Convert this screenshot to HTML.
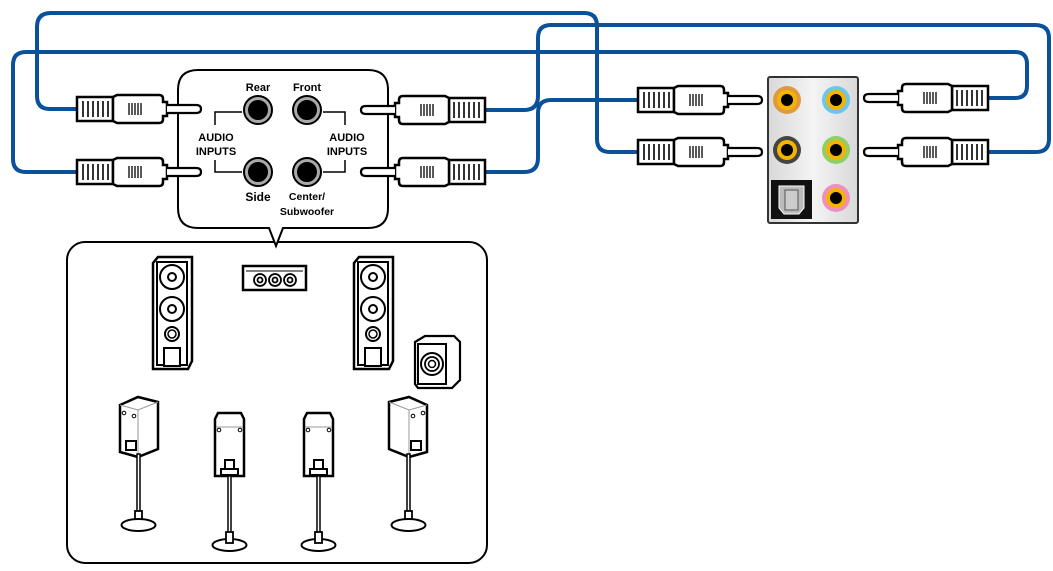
<!DOCTYPE html>
<html><head><meta charset="utf-8"><style>
html,body{margin:0;padding:0;background:#fff;}
svg{display:block;}
text{font-family:"Liberation Sans",Arial,sans-serif;font-weight:bold;fill:#000;}
</style></head><body>
<svg width="1053" height="571" viewBox="0 0 1053 571" xmlns="http://www.w3.org/2000/svg">
<defs>
<g id="plug">
  <rect x="0" y="-12" width="36" height="24" fill="#fff" stroke="#000" stroke-width="2.5"/>
  <g stroke="#000" stroke-width="1.6">
    <line x1="6" y1="-8" x2="6" y2="8"/><line x1="11" y1="-8" x2="11" y2="8"/><line x1="16" y1="-8" x2="16" y2="8"/><line x1="21" y1="-8" x2="21" y2="8"/><line x1="26" y1="-8" x2="26" y2="8"/><line x1="31" y1="-8" x2="31" y2="8"/>
  </g>
  <path d="M36,-12 L40,-14 L82,-14 Q86,-14 86,-10 L86,-7 L90,-7 L90,7 L86,7 L86,10 Q86,14 82,14 L40,14 L36,12 Z" fill="#fff" stroke="#000" stroke-width="2.5"/>
  <g stroke="#000" stroke-width="1.3">
    <line x1="52" y1="-6" x2="52" y2="6"/><line x1="55" y1="-6" x2="55" y2="6"/><line x1="58" y1="-6" x2="58" y2="6"/><line x1="61" y1="-6" x2="61" y2="6"/><line x1="64" y1="-6" x2="64" y2="6"/>
  </g>
  <path d="M90,-4 L119,-4 Q124,-4 124,0 Q124,4 119,4 L90,4" fill="#fff" stroke="#000" stroke-width="2.2"/>
</g>
<g id="tower">
  <path d="M0,6 L5,0 L39,0 L39,104 L35,112 L0,112 Z" fill="#fff" stroke="#000" stroke-width="2.5"/>
  <rect x="4" y="5" width="30" height="103" fill="none" stroke="#000" stroke-width="2"/>
  <circle cx="19" cy="20" r="12" fill="#fff" stroke="#000" stroke-width="2"/><circle cx="19" cy="20" r="4" fill="none" stroke="#000" stroke-width="2"/>
  <circle cx="19" cy="52" r="12" fill="#fff" stroke="#000" stroke-width="2"/><circle cx="19" cy="52" r="4" fill="none" stroke="#000" stroke-width="2"/>
  <circle cx="19" cy="77" r="7" fill="#fff" stroke="#000" stroke-width="2"/><circle cx="19" cy="77" r="4" fill="none" stroke="#000" stroke-width="1.5"/>
  <rect x="11" y="91" width="16" height="18" fill="#fff" stroke="#000" stroke-width="2"/>
</g>
<g id="sat">
  <path d="M3,0 L26,0 L29,6 L29,63 L0,63 L0,6 Z" fill="#fff" stroke="#000" stroke-width="2.5"/>
  <line x1="1" y1="14" x2="28" y2="14" stroke="#999" stroke-width="1"/>
  <circle cx="4" cy="17" r="1.8" fill="#fff" stroke="#000"/><circle cx="25" cy="17" r="1.8" fill="#fff" stroke="#000"/>
  <rect x="10" y="47" width="9" height="9" fill="#fff" stroke="#000" stroke-width="2"/>
  <rect x="6" y="56" width="17" height="6" fill="#fff" stroke="#000" stroke-width="2"/>
  <rect x="13" y="63" width="3" height="57" fill="#fff" stroke="#000" stroke-width="1.5"/>
  <ellipse cx="14.5" cy="132" rx="17" ry="6" fill="#fff" stroke="#000" stroke-width="2"/>
  <rect x="11" y="119" width="7" height="11" fill="#fff" stroke="#000" stroke-width="1.8"/>
</g>
<g id="side">
  <path d="M0,8 L18,0 L38,5 L38,52 L18,60 L0,55 Z" fill="#fff" stroke="#000" stroke-width="2.5"/>
  <path d="M0,8 L18,13 L38,5 M18,13 L18,60" fill="none" stroke="#999" stroke-width="1"/>
  <circle cx="4" cy="16" r="1.8" fill="#fff" stroke="#000"/><circle cx="14" cy="19" r="1.8" fill="#fff" stroke="#000"/>
  <rect x="6" y="44" width="10" height="9" fill="#fff" stroke="#000" stroke-width="2"/>
  <rect x="17" y="57" width="3" height="60" fill="#fff" stroke="#000" stroke-width="1.5"/>
  <rect x="15" y="114" width="7" height="12" fill="#fff" stroke="#000" stroke-width="1.8"/>
  <ellipse cx="18.5" cy="128" rx="17" ry="6" fill="#fff" stroke="#000" stroke-width="2"/>
</g>
</defs>

<!-- wires -->
<g fill="none" stroke="#0a519a" stroke-width="4" stroke-linecap="round">
  <path d="M77,109 L50,109 Q37,109 37,96 L37,27 Q37,13 51,13 L584,13 Q597,13 597,26 L597,139 Q597,152 610,152 L638,152"/>
  <path d="M77,172 L26,172 Q13,172 13,159 L13,65 Q13,52 26,52 L1015,52 Q1027,52 1027,64 L1027,86 Q1027,98 1015,98 L988,98"/>
  <path d="M485,110 L524,110 Q538,110 538,96 L538,38 Q538,25 551,25 L1035,25 Q1049,25 1049,38 L1049,139 Q1049,152 1036,152 L988,152"/>
  <path d="M485,172 L524,172 Q538,172 538,158 L538,113 Q538,100 551,100 L638,100"/>
</g>

<!-- big box -->
<rect x="67" y="242" width="420" height="321" rx="18" fill="#fff" stroke="#000" stroke-width="2"/>
<!-- callout box with downward pointer -->
<path d="M198,70 L368,70 Q388,70 388,90 L388,208 Q388,228 368,228 L283,228 L276,246 L269,228 L198,228 Q178,228 178,208 L178,90 Q178,70 198,70 Z" fill="#fff" stroke="#000" stroke-width="2"/>

<!-- plugs -->
<use href="#plug" transform="translate(77,109)"/>
<use href="#plug" transform="translate(77,172)"/>
<use href="#plug" transform="translate(485,110) scale(-1,1)"/>
<use href="#plug" transform="translate(485,172) scale(-1,1)"/>
<use href="#plug" transform="translate(638,100)"/>
<use href="#plug" transform="translate(638,152)"/>
<use href="#plug" transform="translate(988,98) scale(-1,1)"/>
<use href="#plug" transform="translate(988,152) scale(-1,1)"/>

<!-- callout jacks -->
<g stroke="#000" stroke-width="2">
  <circle cx="258" cy="110" r="14" fill="#aaa"/><circle cx="258" cy="110" r="9" fill="#000"/>
  <circle cx="307" cy="110" r="14" fill="#aaa"/><circle cx="307" cy="110" r="9" fill="#000"/>
  <circle cx="258" cy="172" r="14" fill="#aaa"/><circle cx="258" cy="172" r="9" fill="#000"/>
  <circle cx="307" cy="172" r="14" fill="#aaa"/><circle cx="307" cy="172" r="9" fill="#000"/>
</g>
<g fill="none" stroke="#000" stroke-width="1.5">
  <path d="M242,112 L215,112 L215,125"/><path d="M215,160 L215,172 L242,172"/>
  <path d="M323,112 L345,112 L345,125"/><path d="M345,160 L345,172 L323,172"/>
</g>
<text x="258" y="91" font-size="11" text-anchor="middle">Rear</text>
<text x="307" y="91" font-size="11" text-anchor="middle">Front</text>
<text x="258" y="201" font-size="12" text-anchor="middle">Side</text>
<text x="307" y="200" font-size="10.5" text-anchor="middle">Center/</text>
<text x="307" y="215" font-size="10.5" text-anchor="middle">Subwoofer</text>
<text x="216" y="141" font-size="11" text-anchor="middle">AUDIO</text>
<text x="216" y="155" font-size="11" text-anchor="middle">INPUTS</text>
<text x="347" y="141" font-size="11" text-anchor="middle">AUDIO</text>
<text x="347" y="155" font-size="11" text-anchor="middle">INPUTS</text>

<!-- right panel -->
<defs><linearGradient id="pg" x1="0" x2="1"><stop offset="0" stop-color="#d8d8d8"/><stop offset="0.5" stop-color="#f4f4f4"/><stop offset="1" stop-color="#d8d8d8"/></linearGradient></defs>
<rect x="768" y="77" width="90" height="146" rx="2" fill="url(#pg)" stroke="#333" stroke-width="2"/>
<circle cx="787" cy="100" r="14" fill="#e09a3e"/><circle cx="787" cy="100" r="10" fill="#f5b400"/><circle cx="787" cy="100" r="6" fill="#000"/>
<circle cx="836" cy="100" r="14" fill="#6cc6ea"/><circle cx="836" cy="100" r="10" fill="#f5b400"/><circle cx="836" cy="100" r="6" fill="#000"/>
<circle cx="787" cy="150" r="14" fill="#444"/><circle cx="787" cy="150" r="10" fill="#f5b400"/><circle cx="787" cy="150" r="6" fill="#000"/>
<circle cx="836" cy="150" r="14" fill="#8fcf64"/><circle cx="836" cy="150" r="10" fill="#f5b400"/><circle cx="836" cy="150" r="6" fill="#000"/>
<circle cx="836" cy="198" r="14" fill="#ee8fc0"/><circle cx="836" cy="198" r="10" fill="#f5b400"/><circle cx="836" cy="198" r="6" fill="#000"/>
<rect x="771" y="180" width="41" height="39" fill="#111"/>
<path d="M779,186 L804,186 L804,208 L799,214 L784,214 L779,208 Z" fill="#bbb" stroke="#fff" stroke-width="1"/>
<rect x="785" y="190" width="13" height="20" fill="#ccc" stroke="#555" stroke-width="1"/>

<!-- speakers -->
<use href="#tower" transform="translate(153,257)"/>
<use href="#tower" transform="translate(354,257)"/>
<rect x="243" y="266" width="63" height="24" fill="#fff" stroke="#000" stroke-width="2.5"/>
<line x1="246" y1="271" x2="303" y2="271" stroke="#000" stroke-width="1"/>
<g fill="#fff" stroke="#000" stroke-width="1.8">
  <circle cx="260" cy="280" r="6"/><circle cx="260" cy="280" r="2.5"/>
  <circle cx="275" cy="280" r="6"/><circle cx="275" cy="280" r="2.5"/>
  <circle cx="290" cy="280" r="6"/><circle cx="290" cy="280" r="2.5"/>
</g>
<!-- sub -->
<path d="M415,342 L425,336 L454,336 L460,342 L460,380 L452,388 L418,388 L415,384 Z" fill="#fff" stroke="#000" stroke-width="2.2"/>
<rect x="418" y="344" width="28" height="40" fill="#fff" stroke="#000" stroke-width="2"/>
<circle cx="432" cy="364" r="11" fill="#fff" stroke="#000" stroke-width="2"/><circle cx="432" cy="364" r="7" fill="none" stroke="#000" stroke-width="1.8"/><circle cx="432" cy="364" r="3.5" fill="none" stroke="#000" stroke-width="1.5"/>
<use href="#side" transform="translate(120,397)"/>
<use href="#side" transform="translate(427,397) scale(-1,1)"/>
<use href="#sat" transform="translate(215,413)"/>
<use href="#sat" transform="translate(304,413)"/>
</svg>
</body></html>
